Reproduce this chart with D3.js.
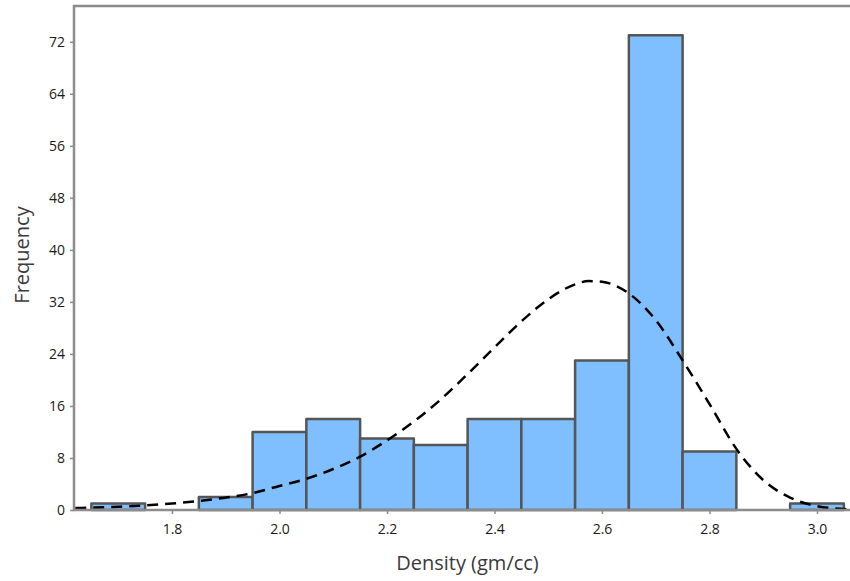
<!DOCTYPE html>
<html>
<head>
<meta charset="utf-8">
<script src="https://cdn.jsdelivr.net/npm/d3@7"></script>
<style>
  body { margin: 0; background: #fff; }
  .tick text { font-family: "Open Sans", "Noto Sans", sans-serif; font-size: 14px; fill: #1a1a1a; }
  .axisTitle { font-family: "Open Sans", "Noto Sans", sans-serif; font-size: 20px; fill: #3a3a3a; }
</style>
</head>
<body>
<div id="chart"></div>
<script>
var svgWidth = 850;
var svgHeight = 581;

// histogram bins (lower edge, upper edge) and counts
var binStarts = [1.65, 1.75, 1.85, 1.95, 2.05, 2.15, 2.25, 2.35, 2.45, 2.55, 2.65, 2.75, 2.85, 2.95];
var binEnds   = [1.75, 1.85, 1.95, 2.05, 2.15, 2.25, 2.35, 2.45, 2.55, 2.65, 2.75, 2.85, 2.95, 3.05];
var counts    = [1, 0, 2, 12, 14, 11, 10, 14, 14, 23, 73, 9, 0, 1];

// fitted curve
var curveX = [1.62, 1.70, 1.75, 1.80, 1.85, 1.90, 1.95, 2.00, 2.05, 2.10, 2.15, 2.20, 2.25, 2.30, 2.35, 2.40, 2.45, 2.50, 2.55, 2.575, 2.60, 2.625, 2.65, 2.70, 2.75, 2.80, 2.85, 2.90, 2.95, 3.00, 3.06];
var curveY = [0.3, 0.5, 0.7, 1.0, 1.4, 1.9, 2.6, 3.7, 4.8, 6.3, 8.2, 10.7, 13.6, 17.0, 20.9, 25.0, 29.0, 32.4, 34.7, 35.2, 35.1, 34.5, 33.3, 29.2, 23.0, 16.3, 9.4, 4.6, 1.9, 0.6, 0.1];

var xTicks = [1.8, 2.0, 2.2, 2.4, 2.6, 2.8, 3.0];
var yTicks = [0, 8, 16, 24, 32, 40, 48, 56, 64, 72];

var margin = { top: 6, right: 0, bottom: 71, left: 74 };
var width = svgWidth - margin.left - margin.right;
var height = svgHeight - margin.top - margin.bottom;

var svg = d3.select("#chart")
  .append("svg")
  .attr("width", svgWidth)
  .attr("height", svgHeight);

var chartGroup = svg.append("g")
  .attr("transform", `translate(${margin.left}, ${margin.top})`);

var xScale = d3.scaleLinear()
  .domain([1.6177, 1.6177 + width / 537.5])
  .range([0, width]);

var yScale = d3.scaleLinear()
  .domain([0, 77.5])
  .range([height, 0]);

// bars
var bins = counts.map(function(c, i) {
  return { x0: binStarts[i], x1: binEnds[i], n: c };
}).filter(function(d) { return d.n > 0; });

chartGroup.selectAll("rect.bar")
  .data(bins)
  .enter()
  .append("rect")
  .attr("class", "bar")
  .attr("x", d => xScale(d.x0))
  .attr("y", d => yScale(d.n))
  .attr("width", d => xScale(d.x1) - xScale(d.x0))
  .attr("height", d => yScale(0) - yScale(d.n))
  .attr("fill", "#80bfff")
  .attr("stroke", "#555")
  .attr("stroke-width", 2.5)
  .attr("stroke-linejoin", "round");

// fitted curve
var line = d3.line()
  .x(d => xScale(d[0]))
  .y(d => yScale(d[1]))
  .curve(d3.curveMonotoneX);

chartGroup.append("path")
  .datum(curveX.map((x, i) => [x, curveY[i]]))
  .attr("d", line)
  .attr("fill", "none")
  .attr("stroke", "#000")
  .attr("stroke-width", 2.5)
  .attr("stroke-dasharray", "11,7");

// frame (top + left + bottom)
chartGroup.append("path")
  .attr("d", `M${width + 5},0 H0 V${height} H${width + 5}`)
  .attr("fill", "none")
  .attr("stroke", "#8c8c8c")
  .attr("stroke-width", 2.5);

// axes
var bottomAxis = d3.axisBottom(xScale)
  .tickValues(xTicks)
  .tickFormat(d3.format(".1f"))
  .tickSize(4)
  .tickPadding(10);

var leftAxis = d3.axisLeft(yScale)
  .tickValues(yTicks)
  .tickSize(4)
  .tickPadding(5);

var xAxisG = chartGroup.append("g")
  .attr("transform", `translate(0, ${height})`)
  .call(bottomAxis);

var yAxisG = chartGroup.append("g")
  .call(leftAxis);

[xAxisG, yAxisG].forEach(function(g) {
  g.select(".domain").remove();
  g.selectAll(".tick line").attr("stroke", "#8c8c8c").attr("stroke-width", 1.5);
});

// axis labels
chartGroup.append("text")
  .attr("class", "axisTitle")
  .attr("transform", "rotate(-90)")
  .attr("x", -(height / 2) + 3)
  .attr("y", -margin.left + 29)
  .attr("text-anchor", "middle")
  .text("Frequency");

chartGroup.append("text")
  .attr("class", "axisTitle")
  .attr("x", xScale(2.4) - 27)
  .attr("y", height + 60)
  .attr("text-anchor", "middle")
  .text("Density (gm/cc)");
</script>
</body>
</html>
